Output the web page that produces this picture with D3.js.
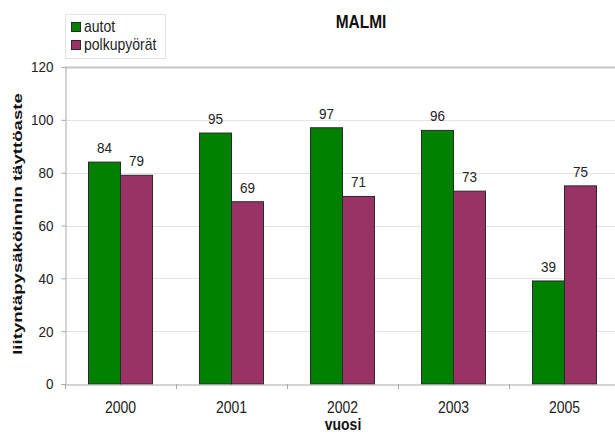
<!DOCTYPE html>
<html>
<head>
<meta charset="utf-8">
<script src="https://cdn.jsdelivr.net/npm/d3@7/dist/d3.min.js"></script>
<style>
  html, body { margin: 0; padding: 0; background: #fff; }
  svg { display: block; font-family: "Liberation Sans", Arial, sans-serif; }
</style>
</head>
<body>
<svg id="chart" width="615" height="435"></svg>
<script>
// Parking occupancy by year
const years = ["2000", "2001", "2002", "2003", "2005"];
const autot = [84, 95, 97, 96, 39];
const polkupyorat = [79, 69, 71, 73, 75];
const seriesNames = ["autot", "polkupyörät"];
const seriesColors = ["#008000", "#993366"];
const yTicks = [0, 20, 40, 60, 80, 100, 120];

const svg = d3.select("#chart");
const plot = { left: 65, right: 620, top: 67, bottom: 384 };
const stretch = 1.15;        // horizontal text is drawn slightly taller than wide
const titleStretch = 1.38;   // the vertical axis title runs long
const textColor = "#222";

const x = d3.scaleBand().domain(years).range([plot.left, plot.right]);
const xs = d3.scaleBand().domain(seriesNames)
  .range([0, x.bandwidth()]).paddingInner(0).paddingOuter(0.734);
const y = d3.scaleLinear().domain([0, 120]).range([plot.bottom, plot.top]);

// helper for stretched text placed at (px, py)
function label(parent, px, py, txt, opts = {}) {
  return parent.append("text")
    .attr("transform", `translate(${px},${py}) ${opts.rotate ? "rotate(-90) scale(" + titleStretch + ",1)" : "scale(1," + stretch + ")"}`)
    .attr("text-anchor", opts.anchor || "middle")
    .attr("font-size", opts.size || 13.5)
    .attr("font-weight", opts.bold ? "bold" : null)
    .attr("fill", opts.fill || textColor)
    .text(txt);
}

// gridlines
svg.append("g").selectAll("line").data(yTicks.filter(d => d > 0)).join("line")
  .attr("x1", plot.left).attr("x2", plot.right)
  .attr("y1", d => Math.round(y(d)) + 0.5).attr("y2", d => Math.round(y(d)) + 0.5)
  .attr("stroke", d => d === 120 ? "#c4c4c4" : "#e4e4e4")
  .attr("stroke-width", d => d === 120 ? 2 : 1);

// y axis
const yAxis = svg.append("g")
  .attr("transform", `translate(${plot.left + 0.5},0)`)
  .call(d3.axisLeft(y).tickValues(yTicks).tickSize(4).tickPadding(8));
yAxis.select(".domain").attr("stroke", "#a8a8a8");
yAxis.selectAll(".tick line").attr("stroke", "#a8a8a8");
yAxis.selectAll("text").attr("font-size", 13.5).attr("fill", textColor)
  .attr("font-family", "Liberation Sans, Arial, sans-serif")
  .attr("transform", `scale(1,${stretch})`);

// bars
const series = [autot, polkupyorat];
const groups = svg.append("g").selectAll("g").data(years).join("g")
  .attr("transform", d => `translate(${x(d)},0)`);

const cells = (d, i) => seriesNames.map((s, k) => ({ s, k, v: series[k][i] }));

groups.selectAll("rect")
  .data(cells)
  .join("rect")
  .attr("x", d => xs(d.s))
  .attr("width", xs.bandwidth())
  .attr("y", d => y(d.v))
  .attr("height", d => y(0) - y(d.v))
  .attr("fill", d => seriesColors[d.k])
  .attr("stroke", "#2a2a2a")
  .attr("stroke-width", 1);

// value labels above each bar
groups.each(function (yr, i) {
  const g = d3.select(this);
  cells(yr, i).forEach(d => {
    label(g, xs(d.s) + xs.bandwidth() / 2, y(d.v) - 9, d.v, { size: 13.5 });
  });
});

// x axis
const xAxis = svg.append("g")
  .attr("transform", `translate(0,${plot.bottom + 0.5})`)
  .call(d3.axisBottom(x).tickSize(0).tickPadding(15));
xAxis.select(".domain").attr("stroke", "#a8a8a8");
xAxis.selectAll("text").attr("font-size", 14).attr("fill", textColor)
  .attr("font-family", "Liberation Sans, Arial, sans-serif")
  .attr("transform", `scale(1,${stretch})`);
// category separators
svg.append("g").selectAll("line").data(years).join("line")
  .attr("x1", d => Math.round(x(d)) + 0.5).attr("x2", d => Math.round(x(d)) + 0.5)
  .attr("y1", plot.bottom).attr("y2", plot.bottom + 5)
  .attr("stroke", "#a8a8a8");

// titles
label(svg, 361, 28, "MALMI", { size: 15.5, bold: true, fill: "#111" });
label(svg, 343, 430, "vuosi", { size: 14, bold: true, fill: "#111" });
label(svg, 22, 224, "liityntäpysäköinnin täyttöaste",
  { size: 13.5, bold: true, fill: "#111", rotate: true });

// legend
const legend = svg.append("g").attr("transform", "translate(65,14)");
legend.append("rect").attr("x", 0.5).attr("y", 0.5).attr("width", 100).attr("height", 44)
  .attr("fill", "#fff").attr("stroke", "#e2e2e2");
seriesNames.forEach((s, k) => {
  legend.append("rect").attr("x", 6.5).attr("y", 8.5 + k * 18).attr("width", 9).attr("height", 9)
    .attr("fill", seriesColors[k]).attr("stroke", "#2a2a2a");
  label(legend, 19, 17.5 + k * 18, s, { size: 14, anchor: "start" });
});
</script>
</body>
</html>
